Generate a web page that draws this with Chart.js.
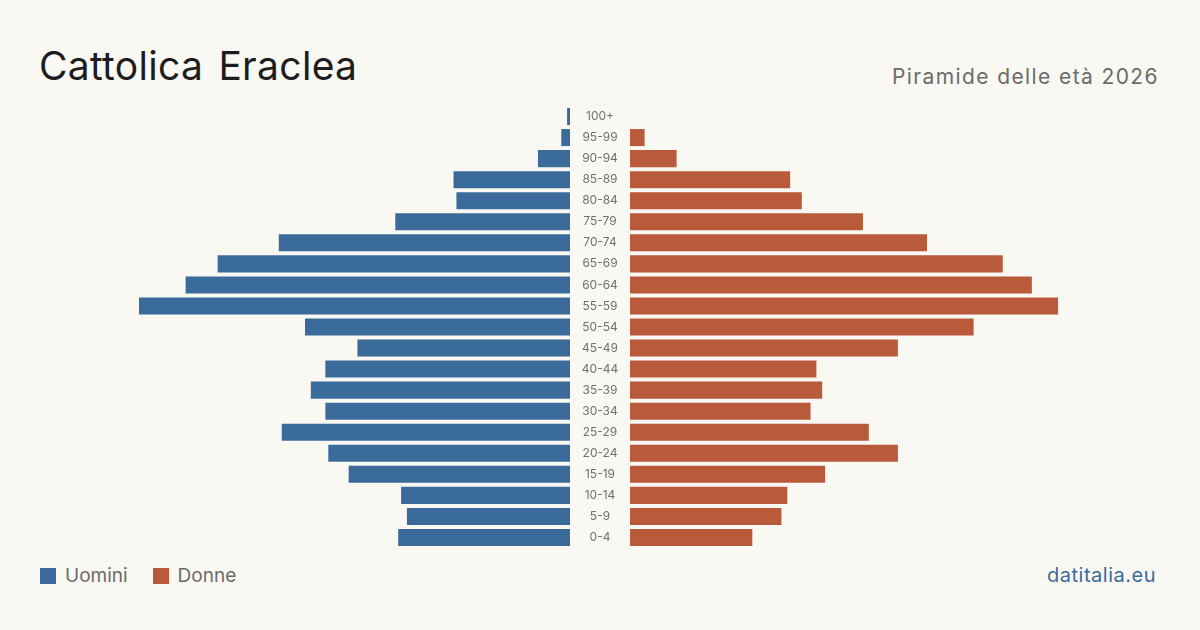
<!DOCTYPE html>
<html lang="it">
<head>
<meta charset="utf-8">
<title>Cattolica Eraclea - Piramide delle età 2026</title>
<script src="https://cdn.jsdelivr.net/npm/chart.js@4.4.1/dist/chart.umd.min.js"></script>
<style>
    html, body {
        margin: 0;
        padding: 0;
        background: #f9f8f3;
    }
    #page {
        position: relative;
        width: 1200px;
        height: 630px;
        background: #f9f8f3;
        font-family: Inter, "Noto Sans", sans-serif;
        overflow: hidden;
    }
    .title {
        position: absolute;
        left: 39px;
        top: 42px;
        font-size: 39px;
        color: #1d1d1d;
        letter-spacing: 0.3px;
        word-spacing: 4px;
    }
    .subtitle {
        position: absolute;
        right: 41px;
        top: 64px;
        font-size: 21px;
        color: #6b6b6b;
        letter-spacing: 1.4px;
    }
    .legend {
        position: absolute;
        left: 40px;
        top: 564px;
        font-size: 19px;
        color: #6b6b6b;
        display: flex;
        align-items: center;
    }
    .legend .sw {
        display: inline-block;
        width: 16px;
        height: 16px;
        margin-right: 9px;
    }
    .legend .item {
        display: flex;
        align-items: center;
        margin-right: 25px;
    }
    .source {
        position: absolute;
        right: 44px;
        top: 563px;
        font-size: 20px;
        color: #3b6b9b;
        letter-spacing: 0.5px;
    }
    .chart-box {
        position: absolute;
        top: 106px;
        height: 442px;
    }
</style>
</head>
<body>
<div id="page">
    <div class="title">Cattolica Eraclea</div>
    <div class="subtitle">Piramide delle età 2026</div>

    <div class="chart-box" style="left:40px; width:530px;">
        <canvas id="maleChart"></canvas>
    </div>
    <div class="chart-box" style="left:570px; width:590px;">
        <canvas id="femaleChart"></canvas>
    </div>

    <div class="legend">
        <span class="item"><span class="sw" style="background:#3b6b9b"></span>Uomini</span>
        <span class="item"><span class="sw" style="background:#b95b3b"></span>Donne</span>
    </div>
    <div class="source">datitalia.eu</div>
</div>

<script>
// Age classes, oldest at the top
const ageGroups = ['100+', '95-99', '90-94', '85-89', '80-84', '75-79', '70-74', '65-69',
    '60-64', '55-59', '50-54', '45-49', '40-44', '35-39', '30-34', '25-29',
    '20-24', '15-19', '10-14', '5-9', '0-4'];

// Residents per age class
const males = [1, 3, 11, 40, 39, 60, 100, 121, 132, 148, 91, 73, 84, 89, 84, 99, 83, 76, 58, 56, 59];
const females = [0, 5, 16, 55, 59, 80, 102, 128, 138, 147, 118, 92, 64, 66, 62, 82, 92, 67, 54, 52, 42];

const X_MAX = 182;
const BLUE = '#3b6b9b';
const ORANGE = '#b95b3b';
const FONT = 'Inter, "Noto Sans", sans-serif';

// Measure the widest label so the tick text ends up centred in the 60px gap
function widestLabel() {
    const ctx = document.createElement('canvas').getContext('2d');
    ctx.font = '12px ' + FONT;
    return Math.max(...ageGroups.map(l => ctx.measureText(l).width));
}
const labelPad = Math.max(0, 30 - widestLabel() / 2);

function baseOptions(reverse) {
    return {
        indexAxis: 'y',
        responsive: true,
        maintainAspectRatio: false,
        animation: false,
        layout: { padding: 0 },
        plugins: {
            legend: { display: false },
            tooltip: { enabled: false }
        },
        scales: {
            x: {
                display: false,
                min: 0,
                max: X_MAX,
                reverse: reverse
            },
            y: {
                display: false
            }
        }
    };
}

new Chart(document.getElementById('maleChart'), {
    type: 'bar',
    data: {
        labels: ageGroups,
        datasets: [{
            label: 'Uomini',
            data: males,
            backgroundColor: BLUE,
            borderWidth: 0,
            barPercentage: 0.9,
            categoryPercentage: 0.9
        }]
    },
    options: baseOptions(true)
});

const femaleOptions = baseOptions(false);
femaleOptions.scales.y = {
    display: true,
    position: 'left',
    grid: { display: false, drawTicks: false },
    border: { display: false },
    ticks: {
        color: '#707070',
        font: { size: 12, family: FONT },
        crossAlign: 'center',
        padding: labelPad
    },
    // fixed 60px gap, and no extra vertical padding so both charts line up
    afterFit: scale => {
        scale.width = 60;
        scale.paddingTop = 0;
        scale.paddingBottom = 0;
    }
};

new Chart(document.getElementById('femaleChart'), {
    type: 'bar',
    data: {
        labels: ageGroups,
        datasets: [{
            label: 'Donne',
            data: females,
            backgroundColor: ORANGE,
            borderWidth: 0,
            barPercentage: 0.9,
            categoryPercentage: 0.9
        }]
    },
    options: femaleOptions
});
</script>
</body>
</html>
